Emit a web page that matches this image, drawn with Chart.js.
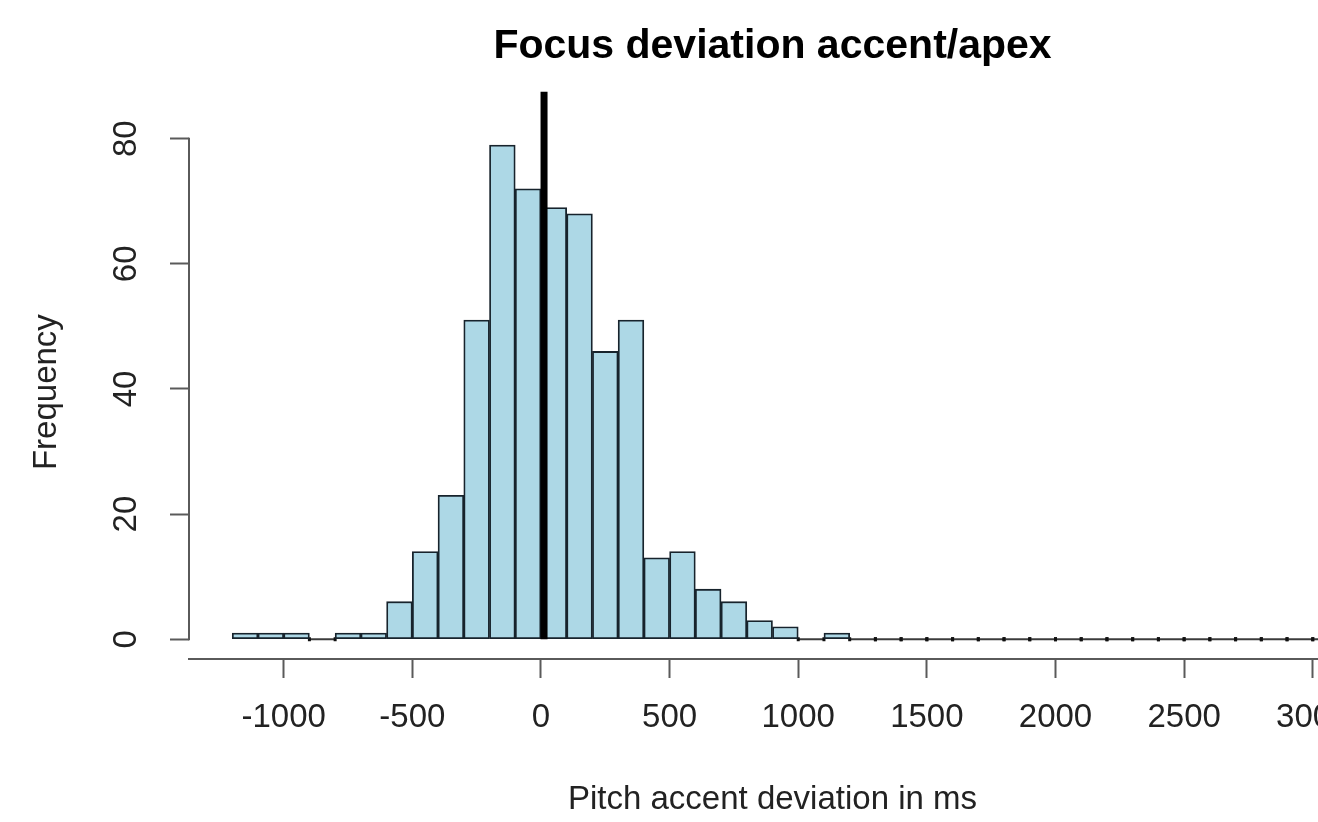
<!DOCTYPE html>
<html>
<head>
<meta charset="utf-8">
<title>Focus deviation accent/apex</title>
<script src="https://cdn.jsdelivr.net/npm/chart.js@4.4.1/dist/chart.umd.min.js"></script>
<style>
  html, body { margin: 0; padding: 0; background: #ffffff; overflow: hidden; }
  #wrap { width: 1400px; height: 822px; }
</style>
</head>
<body>
<div id="wrap"><canvas id="hist" width="1400" height="822"></canvas></div>
<script>
// Histogram bins (centre of each 100 ms bin, in ms)
const binCenters = [
  -1150, -1050, -950, -850, -750, -650, -550, -450, -350, -250, -150, -50,
  50, 150, 250, 350, 450, 550, 650, 750, 850, 950, 1050, 1150,
  1250, 1350, 1450, 1550, 1650, 1750, 1850, 1950, 2050, 2150,
  2250, 2350, 2450, 2550, 2650, 2750, 2850, 2950, 3050, 3150
];
// Number of observations per bin
const frequencies = [
  1, 1, 1, 0, 1, 1, 6, 14, 23, 51, 79, 72,
  69, 68, 46, 51, 13, 14, 8, 6, 3, 2, 0, 1,
  0, 0, 0, 0, 0, 0, 0, 0, 0, 0,
  0, 0, 0, 0, 0, 0, 0, 0, 0, 0
];
const binWidth = 100;

// Axis ticks
const xTickValues = [-1000, -500, 0, 500, 1000, 1500, 2000, 2500, 3000];
const yTickValues = [0, 20, 40, 60, 80];

// Axis ranges
const xRange = [-1368, 3168];
const yRange = [-3.16, 82.16];

// Vertical marker (ms) and how high it reaches (frequency units)
const markerX = 12;
const markerTop = [0, 87.5];

const FONT = '"Liberation Sans", Arial, Helvetica, sans-serif';

// Empty bins are drawn as a flat outline on the zero line, like the other bars' bases
const emptyBinOutline = {
  id: 'emptyBinOutline',
  beforeDatasetsDraw(chart) {
    const {ctx, chartArea, scales: {x, y}} = chart;
    const y0 = y.getPixelForValue(0);
    ctx.save();
    ctx.beginPath();
    ctx.rect(chartArea.left, chartArea.top, chartArea.right - chartArea.left, chartArea.bottom - chartArea.top);
    ctx.clip();
    frequencies.forEach((f, i) => {
      if (f !== 0) return;
      const x0 = x.getPixelForValue(binCenters[i] - binWidth / 2);
      const x1 = x.getPixelForValue(binCenters[i] + binWidth / 2);
      ctx.strokeStyle = '#3c3c3c';
      ctx.lineWidth = 2;
      ctx.beginPath();
      ctx.moveTo(x0, y0);
      ctx.lineTo(x1, y0);
      ctx.stroke();
      ctx.fillStyle = '#111111';
      ctx.fillRect(x0 - 1.5, y0 - 2, 3, 4);
      ctx.fillRect(x1 - 1.5, y0 - 2, 3, 4);
    });
    ctx.restore();
  }
};

// Left axis line spans only the labelled range (first to last tick)
const leftAxisLine = {
  id: 'leftAxisLine',
  afterDraw(chart) {
    const {ctx, chartArea, scales: {y}} = chart;
    const yA = y.getPixelForValue(yTickValues[0]);
    const yB = y.getPixelForValue(yTickValues[yTickValues.length - 1]);
    ctx.save();
    ctx.strokeStyle = '#5a5a5a';
    ctx.lineWidth = 2;
    ctx.beginPath();
    ctx.moveTo(chartArea.left, yA + 1);
    ctx.lineTo(chartArea.left, yB - 1);
    ctx.stroke();
    ctx.restore();
  }
};

const barData = binCenters.map((c, i) => ({x: c, y: frequencies[i]}));
const markerData = markerTop.map(v => ({x: markerX, y: v}));

new Chart(document.getElementById('hist'), {
  type: 'bar',
  data: {
    datasets: [
      {
        type: 'line',
        data: markerData,
        borderColor: '#000000',
        borderWidth: 7,
        borderCapStyle: 'butt',
        pointRadius: 0,
        clip: false,
        order: 0
      },
      {
        type: 'bar',
        data: barData,
        backgroundColor: '#ADD8E6',
        borderColor: '#17232c',
        borderWidth: 1.8,
        borderSkipped: false,
        barPercentage: 1,
        categoryPercentage: 1,
        order: 1
      }
    ]
  },
  options: {
    responsive: false,
    animation: false,
    devicePixelRatio: 1,
    events: [],
    layout: { padding: { left: 0, right: 44, top: 0, bottom: 0 } },
    plugins: {
      legend: { display: false },
      tooltip: { enabled: false },
      title: {
        display: true,
        text: 'Focus deviation accent/apex',
        fullSize: false,
        color: '#000000',
        font: { family: FONT, size: 41, weight: 'bold' },
        padding: { top: 22, bottom: 54 }
      }
    },
    scales: {
      x: {
        type: 'linear',
        offset: false,
        min: xRange[0],
        max: xRange[1],
        afterBuildTicks: s => { s.ticks = xTickValues.map(v => ({value: v})); },
        afterFit: s => { s.height = 163; },
        grid: {
          display: true,
          offset: false,
          drawOnChartArea: false,
          drawTicks: true,
          tickLength: 19,
          tickColor: '#5a5a5a',
          tickWidth: 2
        },
        border: { display: true, color: '#5a5a5a', width: 2 },
        ticks: {
          color: '#222222',
          font: { family: FONT, size: 33 },
          padding: 20,
          maxRotation: 0,
          autoSkip: false,
          callback: v => String(v)
        },
        title: {
          display: true,
          text: 'Pitch accent deviation in ms',
          color: '#222222',
          font: { family: FONT, size: 33 },
          padding: { top: 0, bottom: 2 }
        }
      },
      y: {
        type: 'linear',
        min: yRange[0],
        max: yRange[1],
        afterBuildTicks: s => { s.ticks = yTickValues.map(v => ({value: v})); },
        afterFit: s => { s.width = 189; },
        grid: {
          display: true,
          drawOnChartArea: false,
          drawTicks: true,
          tickLength: 19,
          tickColor: '#5a5a5a',
          tickWidth: 2
        },
        border: { display: false },
        ticks: {
          color: '#222222',
          font: { family: FONT, size: 33 },
          padding: 25,
          minRotation: 90,
          maxRotation: 90,
          crossAlign: 'center',
          autoSkip: false,
          callback: v => String(v)
        },
        title: {
          display: true,
          text: 'Frequency',
          color: '#222222',
          font: { family: FONT, size: 33 },
          padding: { top: 27, bottom: 0 }
        }
      }
    }
  },
  plugins: [emptyBinOutline, leftAxisLine]
});
</script>
</body>
</html>
